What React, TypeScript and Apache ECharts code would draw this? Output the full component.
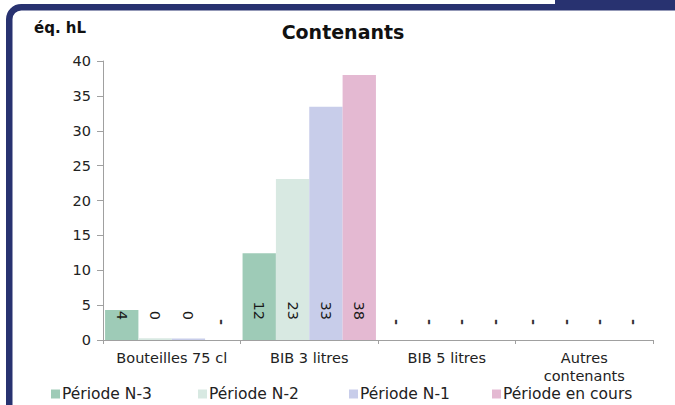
import React, { useEffect, useRef } from "react";
import * as echarts from "echarts";

const categories = ["Bouteilles 75 cl", "BIB 3 litres", "BIB 5 litres", "Autres\ncontenants"];
const seriesNames = ["Période N-3", "Période N-2", "Période N-1", "Période en cours"];
const periodeN3 = [4.3, 12.45, 0, 0];
const periodeN2 = [0.25, 23.1, 0, 0];
const periodeN1 = [0.2, 33.45, 0, 0];
const periodeEnCours = [0, 38.0, 0, 0];
const yTicks = { min: 0, max: 40, interval: 5 };

const colors = ["#9ecbb7", "#d8e9e2", "#c8cdea", "#e4b9d2"];
const FONT = "DejaVu Sans";
const NAVY = "#283270";

export default function App() {
  const ref = useRef<HTMLDivElement>(null);
  useEffect(() => {
    if (!ref.current) return;
    const chart = echarts.init(ref.current, null, { renderer: "svg" });
    const values = [periodeN3, periodeN2, periodeN1, periodeEnCours];
    const legendX = [51, 198, 349, 492];
    chart.setOption({
      animation: false,
      textStyle: { fontFamily: FONT },
      grid: { left: 103, right: 22, top: 61, bottom: 65, containLabel: false },
      xAxis: {
        type: "category",
        data: categories,
        axisLine: { lineStyle: { color: "#a0a0a0", width: 1 } },
        axisTick: { show: true, length: 4, lineStyle: { color: "#a0a0a0" } },
        axisLabel: { interval: 0, hideOverlap: false, color: "#222", fontSize: 14.5, lineHeight: 18, margin: 9, fontFamily: FONT },
      },
      yAxis: {
        type: "value",
        min: yTicks.min,
        max: yTicks.max,
        interval: yTicks.interval,
        splitLine: { show: false },
        axisLine: { show: true, lineStyle: { color: "#a0a0a0", width: 1 } },
        axisTick: { show: true, length: 6, lineStyle: { color: "#a0a0a0" } },
        axisLabel: { color: "#222", fontSize: 14.5, margin: 12, fontFamily: FONT },
      },
      legend: seriesNames.map((n, i) => ({
        data: [n],
        left: legendX[i],
        top: 386,
        padding: 0,
        itemWidth: 9,
        itemHeight: 9,
        icon: "rect",
        itemStyle: { borderWidth: 0 },
        textStyle: { fontSize: 15.5, lineHeight: 15, color: "#222", padding: [0, 0, 0, -3], fontFamily: FONT },
      })),
      series: seriesNames.map((n, i) => ({
        name: n,
        type: "bar",
        data: values[i].map((v) =>
          v === 0
            ? { value: v, label: { distance: 15, fontWeight: "bold", color: "#333" } }
            : v
        ),
        barGap: "0%",
        barCategoryGap: "3%",
        itemStyle: { color: colors[i] },
        label: {
          show: true,
          position: "insideBottom",
          distance: 20,
          rotate: -90,
          align: "right",
          verticalAlign: "middle",
          fontSize: 14.5,
          color: "#1a1a1a",
          textBorderWidth: 0,
          fontFamily: FONT,
          formatter: (p: any) => (p.value === 0 ? "-" : String(Math.round(p.value))),
        },
      })),
      graphic: [
        {
          type: "rect",
          shape: { x: 9.25, y: 7.25, width: 900, height: 600, r: 12 },
          style: { fill: "none", stroke: NAVY, lineWidth: 6.5 },
          silent: true,
        },
        {
          type: "rect",
          shape: { x: 555, y: 0, width: 130, height: 10 },
          style: { fill: NAVY },
          silent: true,
        },
        {
          type: "text",
          x: 617,
          y: -5,
          style: { text: "CONTENANTS", fill: "#fff", font: `bold 14px ${FONT}`, textVerticalAlign: "middle" },
          silent: true,
        },
        {
          type: "text",
          x: 343,
          y: 32,
          style: { text: "Contenants", fill: "#111", font: `bold 19px ${FONT}`, textAlign: "center", textVerticalAlign: "middle" },
          silent: true,
        },
        {
          type: "text",
          x: 34,
          y: 28,
          style: { text: "éq. hL", fill: "#111", font: `bold 15px ${FONT}`, textAlign: "left", textVerticalAlign: "middle" },
          silent: true,
        },
      ],
    });
    return () => chart.dispose();
  }, []);
  return <div ref={ref} style={{ position: "fixed", left: 0, top: 0, width: 675, height: 405, background: "#fff" }} />;
}
